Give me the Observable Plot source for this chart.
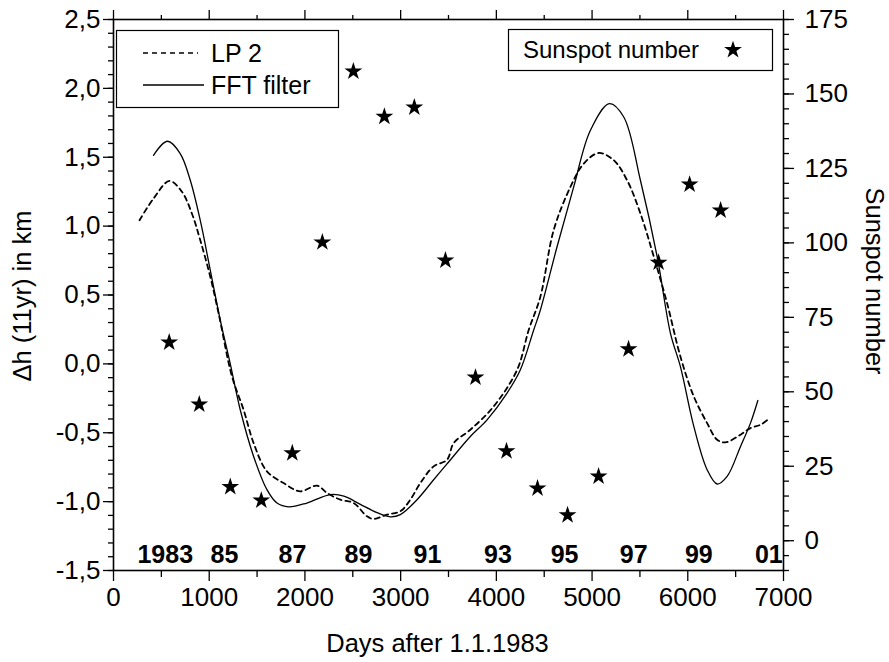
<!DOCTYPE html>
<html><head><meta charset="utf-8">
<script src="https://cdn.jsdelivr.net/npm/d3@7"></script>
<script src="https://cdn.jsdelivr.net/npm/@observablehq/plot@0.6"></script>
<style>body{margin:0;background:#fff;} #chart svg{display:block;}</style>
</head><body><div id="chart"></div>
<script>
// FFT filter curve (left axis, km)
const fftDays = [418, 564, 697, 802, 906, 1011, 1115, 1220, 1324, 1464, 1603, 1708, 1829, 2021, 2265, 2407, 2579, 2753, 2892, 2997, 3171, 3345, 3480, 3728, 3903, 4112, 4251, 4390, 4460, 4634, 4808, 4983, 5181, 5331, 5505, 5680, 5819, 5923, 6063, 6202, 6307, 6411, 6551, 6655, 6732];
const fftValues = [1.514, 1.616, 1.527, 1.333, 1.043, 0.681, 0.319, 0.0, -0.333, -0.672, -0.913, -1.01, -1.038, -1.01, -0.949, -0.96, -1.02, -1.08, -1.11, -1.094, -0.986, -0.841, -0.73, -0.527, -0.406, -0.212, -0.043, 0.246, 0.391, 0.85, 1.285, 1.696, 1.889, 1.792, 1.333, 0.778, 0.222, -0.02, -0.454, -0.768, -0.872, -0.817, -0.599, -0.43, -0.266];
// LP 2 curve (left axis, km)
const lpDays = [272, 418, 585, 715, 819, 906, 1011, 1098, 1238, 1359, 1464, 1603, 1777, 1951, 2126, 2231, 2370, 2509, 2649, 2718, 2858, 2997, 3101, 3206, 3345, 3485, 3554, 3728, 3972, 4217, 4338, 4460, 4599, 4774, 4913, 5070, 5227, 5366, 5505, 5645, 5784, 5923, 6063, 6202, 6307, 6394, 6551, 6655, 6760, 6857];
const lpValues = [1.043, 1.20, 1.328, 1.249, 1.092, 0.899, 0.633, 0.367, -0.092, -0.333, -0.575, -0.780, -0.865, -0.925, -0.884, -0.937, -0.986, -1.01, -1.107, -1.126, -1.094, -1.07, -0.986, -0.865, -0.744, -0.696, -0.575, -0.478, -0.309, -0.043, 0.246, 0.488, 0.971, 1.285, 1.454, 1.531, 1.478, 1.333, 1.092, 0.778, 0.44, 0.053, -0.237, -0.43, -0.551, -0.57, -0.514, -0.466, -0.442, -0.393];
// Sunspot numbers (right axis)
const sunDays = [582, 896, 1220, 1544, 1868, 2182, 2506, 2830, 3143, 3468, 3782, 4106, 4430, 4744, 5068, 5381, 5695, 6019, 6343];
const sunValues = [66.6, 45.8, 18.1, 13.5, 29.4, 100.2, 157.6, 142.4, 145.5, 94.1, 54.8, 30.1, 17.6, 8.6, 21.6, 64.3, 93.4, 119.6, 110.9];
// Year labels inside plot
const yearLabels = ["1983", "85", "87", "89", "91", "93", "95", "97", "99", "01"];
const yearDays = [541, 1159, 1870, 2560, 3280, 4016, 4713, 5435, 6115, 6847];
const yearLevel = -1.39;
// Axis ticks
const xTicks = [0, 1000, 2000, 3000, 4000, 5000, 6000, 7000];
const xMinor = [500, 1500, 2500, 3500, 4500, 5500, 6500];
const leftTicks = [-1.5, -1.0, -0.5, 0.0, 0.5, 1.0, 1.5, 2.0, 2.5];
const rightTicks = [0, 25, 50, 75, 100, 125, 150, 175];
const leftDomain = [-1.5, 2.5];
const rightDomain = [-10, 175];

const toLeft = s => leftDomain[0] + (s - rightDomain[0]) * (leftDomain[1] - leftDomain[0]) / (rightDomain[1] - rightDomain[0]);
const fromLeft = v => rightDomain[0] + (v - leftDomain[0]) * (rightDomain[1] - rightDomain[0]) / (leftDomain[1] - leftDomain[0]);

const fft = fftDays.map((d, i) => ({day: d, value: fftValues[i]}));
const lp = lpDays.map((d, i) => ({day: d, value: lpValues[i]}));
const sun = sunDays.map((d, i) => ({day: d, value: toLeft(sunValues[i])}));
const years = yearLabels.map((t, i) => ({text: t, day: yearDays[i], y: yearLevel}));

const leftMinor = d3.range(-15, 26, 1).map(v => v / 10);
const rightMinor = d3.range(-10, 176, 5).map(toLeft);
const TICKFS = 26, TITLEFS = 25.5;
const font = "'Liberation Sans', Arial, sans-serif";

const chart = Plot.plot({
  width: 889, height: 662,
  marginLeft: 113, marginRight: 106, marginTop: 19, marginBottom: 92,
  style: {fontFamily: font, fontSize: TICKFS + "px", color: "black", background: "white"},
  x: {domain: [0, 7000]},
  y: {domain: leftDomain},
  marks: [
    // bottom axis
    Plot.axisX(xTicks, {anchor: "bottom", tickSize: 11, tickPadding: 6, fontSize: TICKFS, strokeWidth: 1.3,
      tickFormat: d => String(d), label: null}),
    Plot.axisX(xMinor, {anchor: "bottom", tickSize: 7, tickFormat: () => "", strokeWidth: 1.3, label: null}),
    // top axis (ticks only)
    Plot.axisX(xTicks, {anchor: "top", tickSize: 10, tickFormat: () => "", strokeWidth: 1.3, label: null}),
    Plot.axisX(xMinor, {anchor: "top", tickSize: 5, tickFormat: () => "", strokeWidth: 1.3, label: null}),
    // left axis
    Plot.axisY(leftTicks, {anchor: "left", tickSize: 10, tickPadding: 3, fontSize: TICKFS, strokeWidth: 1.3,
      tickFormat: d => d.toFixed(1).replace(".", ","), label: null}),
    Plot.axisY(leftMinor, {anchor: "left", tickSize: 5, tickFormat: () => "", strokeWidth: 1.3, label: null}),
    // right axis (sunspot number)
    Plot.axisY(rightTicks.map(toLeft), {anchor: "right", tickSize: 10, tickPadding: 11, fontSize: TICKFS, strokeWidth: 1.3,
      tickFormat: d => String(Math.round(fromLeft(d))), label: null}),
    Plot.axisY(rightMinor, {anchor: "right", tickSize: 5, tickFormat: () => "", strokeWidth: 1.3, label: null}),
    Plot.frame({stroke: "black", strokeWidth: 1.6}),
    // axis titles
    Plot.text(["Δh (11yr) in km"], {text: d => d, frameAnchor: "left", textAnchor: "middle", lineAnchor: "middle",
      dx: -91, dy: 1, rotate: -90, fontSize: TITLEFS}),
    Plot.text(["Sunspot number"], {text: d => d, frameAnchor: "right", textAnchor: "middle", lineAnchor: "middle",
      dx: 91, dy: -14, rotate: 90, fontSize: TITLEFS}),
    Plot.text(["Days after 1.1.1983"], {text: d => d, frameAnchor: "bottom", textAnchor: "middle", lineAnchor: "middle",
      dx: -11, dy: 73, fontSize: TITLEFS}),
    // data
    Plot.line(lp, {x: "day", y: "value", curve: "catmull-rom", stroke: "black", strokeWidth: 1.8, strokeDasharray: "5,4"}),
    Plot.line(fft, {x: "day", y: "value", curve: "catmull-rom", stroke: "black", strokeWidth: 1.3}),
    Plot.dot(sun, {x: "day", y: "value", symbol: "star", r: 5.6, fill: "black", stroke: "none"}),
    Plot.text(years, {x: "day", y: "y", text: "text", fontSize: 25, fontWeight: "bold"})
  ]
});

// legends
const svg = d3.select(chart);
const g = svg.append("g").attr("font-family", font).attr("fill", "black").attr("text-anchor", "start");
g.append("rect").attr("x", 116.5).attr("y", 30.5).attr("width", 222).attr("height", 77).attr("fill", "white").attr("stroke", "black").attr("stroke-width", 1.2);
g.append("line").attr("x1", 143).attr("x2", 198).attr("y1", 53).attr("y2", 53).attr("stroke", "black").attr("stroke-width", 1.6).attr("stroke-dasharray", "5,4");
g.append("line").attr("x1", 143).attr("x2", 204).attr("y1", 85).attr("y2", 85).attr("stroke", "black").attr("stroke-width", 1.3);
g.append("text").attr("x", 211).attr("y", 53).attr("dy", "0.35em").attr("font-size", 25).attr("text-anchor", "start").text("LP 2");
g.append("text").attr("x", 211).attr("y", 85).attr("dy", "0.35em").attr("font-size", 25).attr("text-anchor", "start").text("FFT filter");
g.append("rect").attr("x", 508.5).attr("y", 29.5).attr("width", 264).attr("height", 41).attr("fill", "white").attr("stroke", "black").attr("stroke-width", 1.2);
g.append("text").attr("x", 523).attr("y", 50).attr("dy", "0.35em").attr("font-size", 24).attr("text-anchor", "start").text("Sunspot number");
const starSize = Math.PI * 5.6 * 5.6;
g.append("path").attr("d", d3.symbol(d3.symbolStar, starSize)()).attr("transform", "translate(733,50)").attr("fill", "black");

document.getElementById("chart").append(chart);
</script>
</body></html>
